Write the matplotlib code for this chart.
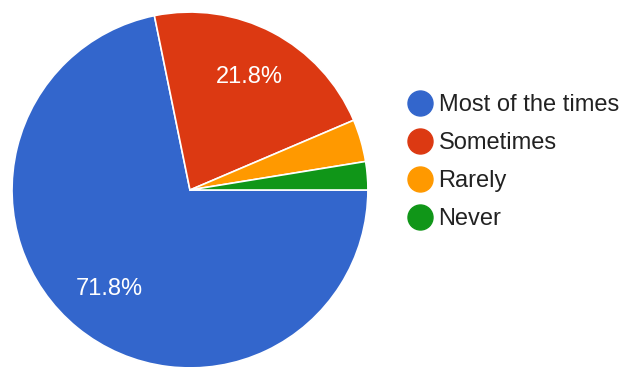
import matplotlib
matplotlib.use("Agg")
import matplotlib.pyplot as plt
from matplotlib.lines import Line2D

plt.rcParams['font.family'] = ['Liberation Sans', 'DejaVu Sans']

# answers (counts: 71.8%, 21.8%, ~3.8%, ~2.6%)
labels = ['Most of the times', 'Sometimes', 'Rarely', 'Never']
counts = [56, 17, 3, 2]
colors = ['#3366cc', '#dc3912', '#ff9900', '#109618']

fig = plt.figure(figsize=(6.2, 3.67), dpi=100)
ax = fig.add_axes([0.0194, -0.0027, 0.574, 0.970])

def pct(p):
    return '%.1f%%' % p if p > 5 else ''

wedges, texts, autotexts = ax.pie(counts, colors=colors, startangle=0, counterclock=False,
                                  autopct=pct, pctdistance=0.72,
                                  wedgeprops=dict(edgecolor='white', linewidth=1.2),
                                  textprops=dict(color='white', fontsize=17))
ax.set_xlim(-1, 1)
ax.set_ylim(-1, 1)
ax.set_aspect('equal')

handles = [Line2D([], [], marker='o', linestyle='', markersize=18, markerfacecolor=c,
                  markeredgecolor=c) for c in colors]
fig.legend(handles, labels, loc='upper left', bbox_to_anchor=(0.635, 0.776),
           frameon=False, fontsize=17, labelspacing=0.68, handletextpad=0.2,
           handlelength=1.2, labelcolor='#222222', borderpad=0)

fig.savefig('out.png', dpi=100)
